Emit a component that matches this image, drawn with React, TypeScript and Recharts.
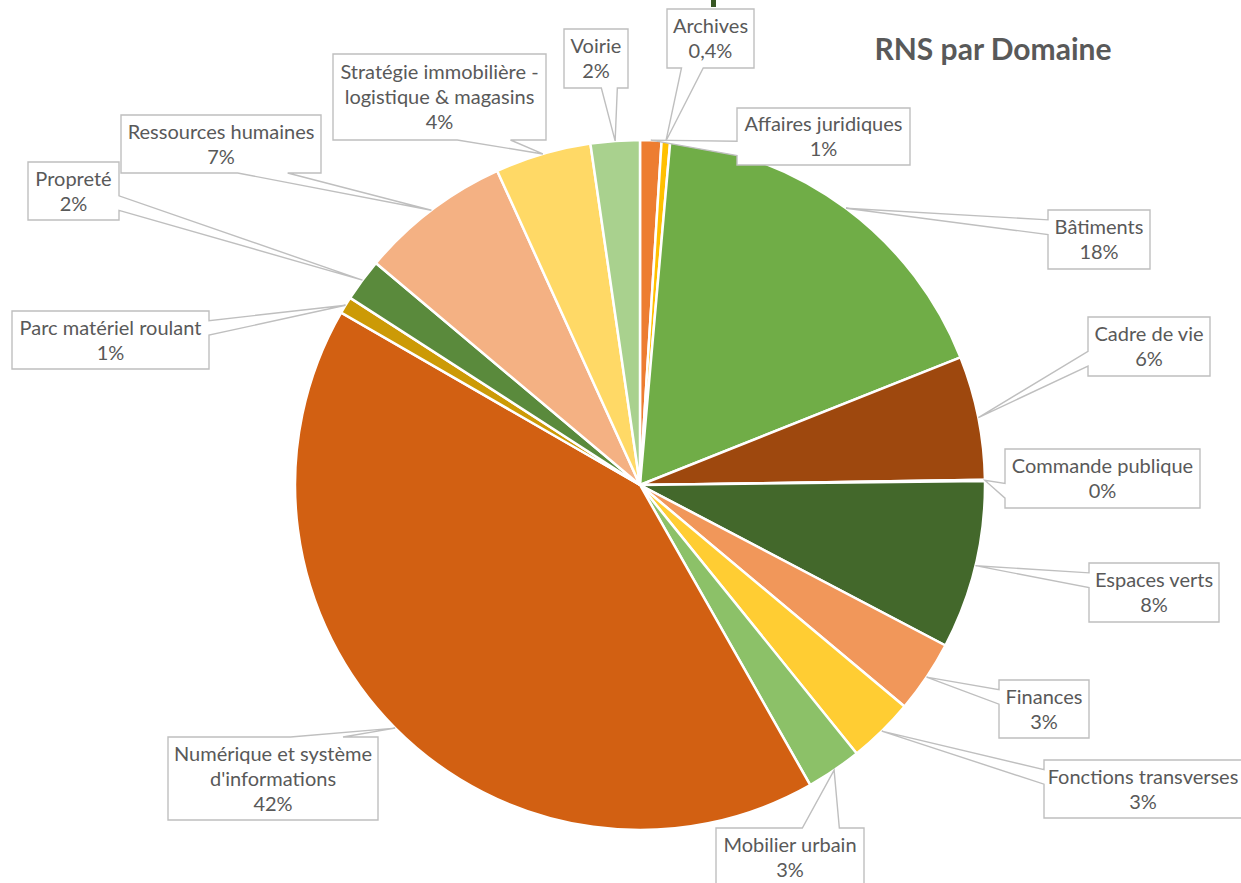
import React from 'react';
import { PieChart, Pie, Cell } from 'recharts';

const categories = [
  'Affaires juridiques',
  'Archives',
  'Bâtiments',
  'Cadre de vie',
  'Commande publique',
  'Espaces verts',
  'Finances',
  'Fonctions transverses',
  'Mobilier urbain',
  "Numérique et système d'informations",
  'Parc matériel roulant',
  'Propreté',
  'Ressources humaines',
  'Stratégie immobilière - logistique & magasins',
  'Voirie',
];

const values = [1.0, 0.4, 17.6, 5.8, 0.05, 7.9, 3.4, 3.1, 2.6, 41.6, 0.8, 2.0, 7.1, 4.5, 2.3];

const percentLabels = ['1%', '0,4%', '18%', '6%', '0%', '8%', '3%', '3%', '3%', '42%', '1%', '2%', '7%', '4%', '2%'];

const labelLines = [
  ['Affaires juridiques'],
  ['Archives'],
  ['Bâtiments'],
  ['Cadre de vie'],
  ['Commande publique'],
  ['Espaces verts'],
  ['Finances'],
  ['Fonctions transverses'],
  ['Mobilier urbain'],
  ['Numérique et système', "d'informations"],
  ['Parc matériel roulant'],
  ['Propreté'],
  ['Ressources humaines'],
  ['Stratégie immobilière -', 'logistique & magasins'],
  ['Voirie'],
];

const colors = [
  '#ED7D31', '#FFC000', '#70AD47', '#9E480E', '#997300',
  '#43682B', '#F1975A', '#FFCD33', '#8CC168', '#D26012',
  '#CC9A06', '#5A8A3C', '#F4B183', '#FFD966', '#A9D18E',
];

// callout box layout (left, top, width, height)
const labelBoxes = [
  { left: 737, top: 108, width: 173, height: 57 },
  { left: 667, top: 9, width: 87, height: 59 },
  { left: 1048, top: 210, width: 102, height: 59 },
  { left: 1088, top: 317, width: 122, height: 59 },
  { left: 1005, top: 449, width: 195, height: 59 },
  { left: 1089, top: 563, width: 130, height: 59 },
  { left: 999, top: 680, width: 90, height: 58 },
  { left: 1044, top: 760, width: 198, height: 58 },
  { left: 716, top: 828, width: 148, height: 58 },
  { left: 168, top: 737, width: 210, height: 83 },
  { left: 12, top: 311, width: 197, height: 58 },
  { left: 28, top: 162, width: 91, height: 58 },
  { left: 121, top: 115, width: 200, height: 58 },
  { left: 333, top: 54, width: 213, height: 86 },
  { left: 564, top: 29, width: 64, height: 59 },
];

const data = categories.map((name, i) => ({ name, value: values[i] }));

const RAD = Math.PI / 180;
const FONT = "Lato, 'Noto Sans', sans-serif";
const FONT_SIZE = 20;
const LINE_H = 25;

function renderCallout(props: any) {
  const { cx, cy, midAngle, outerRadius, index } = props;
  const tx = cx + outerRadius * Math.cos(-midAngle * RAD);
  const ty = cy + outerRadius * Math.sin(-midAngle * RAD);
  const b = labelBoxes[index];
  const l = b.left, t = b.top, w = b.width, h = b.height;
  const r = l + w, bt = t + h;
  const hc = l + w / 2, vc = t + h / 2;
  const dx = tx - hc, dy = ty - vc;
  let side: string;
  if (Math.abs(dx * h) > Math.abs(dy * w)) side = dx > 0 ? 'right' : 'left';
  else side = dy > 0 ? 'bottom' : 'top';
  const xa = dx > 0 ? l + (w * 7) / 12 : l + (w * 2) / 12;
  const xb = dx > 0 ? l + (w * 10) / 12 : l + (w * 5) / 12;
  const ya = dy > 0 ? t + (h * 7) / 12 : t + (h * 2) / 12;
  const yb = dy > 0 ? t + (h * 10) / 12 : t + (h * 5) / 12;
  let p = `M${l},${t}`;
  if (side === 'top') p += ` L${xa},${t} L${tx},${ty} L${xb},${t}`;
  p += ` L${r},${t}`;
  if (side === 'right') p += ` L${r},${ya} L${tx},${ty} L${r},${yb}`;
  p += ` L${r},${bt}`;
  if (side === 'bottom') p += ` L${xb},${bt} L${tx},${ty} L${xa},${bt}`;
  p += ` L${l},${bt}`;
  if (side === 'left') p += ` L${l},${yb} L${tx},${ty} L${l},${ya}`;
  p += ' Z';

  const lines = [...labelLines[index], percentLabels[index]];
  const n = lines.length;
  const capH = FONT_SIZE * 0.72;
  return (
    <g key={`callout-${index}`}>
      <path d={p} fill="#ffffff" stroke="#BFBFBF" strokeWidth={1.4} strokeLinejoin="miter" />
      {lines.map((s, i) => (
        <text
          key={i}
          x={hc}
          y={vc - ((n - 1) / 2) * LINE_H + i * LINE_H + capH / 2}
          textAnchor="middle"
          fill="#595959"
          fontFamily={FONT}
          fontSize={FONT_SIZE}
        >
          {s}
        </text>
      ))}
    </g>
  );
}

export default function App() {
  return (
    <div
      style={{
        position: 'absolute',
        left: 0,
        top: 0,
        width: 1241,
        height: 883,
        background: '#ffffff',
        overflow: 'hidden',
      }}
    >
      <div
        style={{
          position: 'absolute',
          left: 711,
          top: 0,
          width: 5,
          height: 7,
          background: '#375623',
        }}
      />
      <PieChart width={1241} height={883} margin={{ top: 0, right: 0, bottom: 0, left: 0 }}>
        <Pie
          data={data}
          dataKey="value"
          nameKey="name"
          cx={640}
          cy={485}
          outerRadius={345}
          startAngle={90}
          endAngle={-270}
          stroke="#ffffff"
          strokeWidth={2.5}
          isAnimationActive={false}
          labelLine={false}
          label={renderCallout}
        >
          {data.map((d, i) => (
            <Cell key={d.name} fill={colors[i]} />
          ))}
        </Pie>
      </PieChart>
      <div
        style={{
          position: 'absolute',
          left: 793,
          top: 30,
          width: 400,
          textAlign: 'center',
          fontFamily: FONT,
          fontWeight: 700,
          fontSize: 30,
          lineHeight: '36px',
          color: '#595959',
          whiteSpace: 'nowrap',
        }}
      >
        RNS par Domaine
      </div>
    </div>
  );
}
